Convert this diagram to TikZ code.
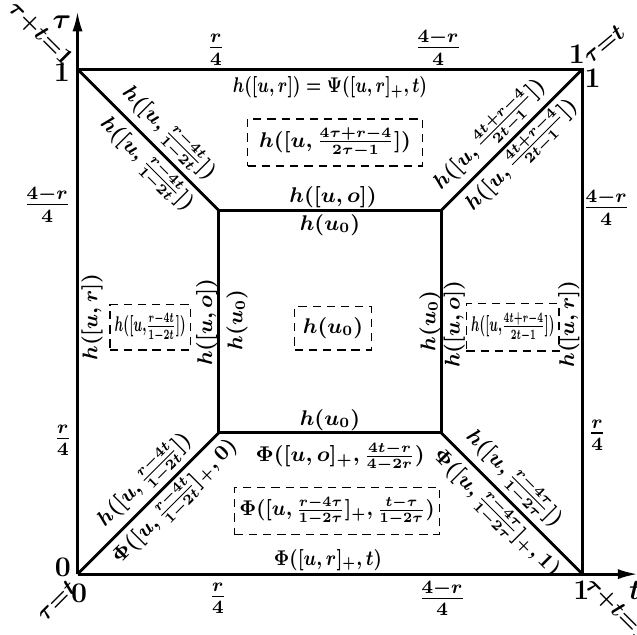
\documentclass[tikz,border=0pt]{standalone}
\usepackage{amsmath}
\usepackage{graphicx}
\usepackage{tikz}
\usetikzlibrary{arrows.meta,positioning}

\begin{document}
\begin{tikzpicture}[x=0.75cm, y=0.75cm,
        edge/.style={line width=1.2pt},
        axis/.style={line width=1.2pt, -{Latex[length=3mm, width=1.5mm]}},
        lbl/.style={inner sep=1pt, font=\fontsize{9}{11}\selectfont\boldmath},
        tick/.style={inner sep=1pt, font=\large\boldmath},
        corner/.style={inner sep=1pt, font=\normalsize\boldmath},
        side/.style={lbl, rotate=90},
        formbox/.style={draw, line width=0.7pt, dash pattern=on 3.5pt off 2.5pt, inner sep=2pt, font=\fontsize{9}{11}\selectfont\boldmath}
      ]
      \useasboundingbox (-1.535,-1.19) rectangle (11.08,11.37);
      \coordinate (sw) at (0,0);
      \coordinate (se) at (10,0);
      \coordinate (ne) at (10,10);
      \coordinate (nw) at (0,10);
      \coordinate (isw) at (2.8,2.8);
      \coordinate (ise) at (7.2,2.8);
      \coordinate (ine) at (7.2,7.2);
      \coordinate (inw) at (2.8,7.2);
      \coordinate (tend) at (11.1,0);
      \coordinate (tauend) at (0,11.15);
      \draw[axis] (sw) -- (tend);
      \draw[axis] (sw) -- (tauend);
      \draw[edge] (nw) -- (ne) -- (se);
      \draw[edge] (isw) rectangle (ine);
      \draw[edge] (nw) -- node[lbl, sloped, above, pos=0.55] {$h([u,\frac{r-4t}{1-2t}])$}
                          node[lbl, sloped, below, pos=0.58] {$h([u,\frac{r-4t}{1-2t}])$} (inw);
      \draw[edge] (ine) -- node[lbl, sloped, above, pos=0.44] {$h([u,\frac{4t+r-4}{2t-1}])$}
                          node[lbl, sloped, below, pos=0.48] {$h([u,\frac{4t+r-4}{2t-1}])$} (ne);
      \draw[edge] (sw) -- node[lbl, sloped, above, pos=0.57] {$h([u,\frac{r-4t}{1-2t}])$}
                          node[lbl, sloped, below, pos=0.6] {$\Phi([u,\frac{r-4t}{1-2t}]_+,0)$} (isw);
      \draw[edge] (ise) -- node[lbl, sloped, above, pos=0.42] {$h([u,\frac{r-4\tau}{1-2\tau}])$}
                          node[lbl, sloped, below, pos=0.48] {$\Phi([u,\frac{r-4\tau}{1-2\tau}]_+,1)$} (se);

      \node[tick] (taulbl) at (-0.31,10.93) {$\tau$};
      \node[tick] (tlbl) at (11.04,-0.32) {$t$};
      \node[corner, rotate=-45] (sumnw) at (-0.74,10.69) {$\tau{+}t{=}1$};
      \node[tick] (onenw) at (-0.31,9.94) {$1$};
      \node[tick] (onene) at (9.89,10.3) {$1$};
      \node[corner, rotate=40] (eqne) at (10.42,10.5) {$\tau{=}t$};
      \node[tick] (onene2) at (10.2,9.82) {$1$};
      \node[tick] (zerow) at (-0.29,0.14) {$0$};
      \node[tick] (zeros) at (0.03,-0.38) {$0$};
      \node[corner, rotate=45] (eqsw) at (-0.42,-0.53) {$\tau{=}t$};
      \node[tick] (onese) at (9.98,-0.32) {$1$};
      \node[corner, rotate=-45] (sumse) at (10.68,-0.72) {$\tau{+}t{=}1$};

      \node[tick] (ticktl) at (2.74,10.38) {$\frac{r}{4}$};
      \node[tick] (ticktr) at (7.14,10.42) {$\frac{4-r}{4}$};
      \node[tick] (tickbl) at (2.78,-0.48) {$\frac{r}{4}$};
      \node[tick] (tickbr) at (7.22,-0.48) {$\frac{4-r}{4}$};
      \node[tick] (ticklt) at (-0.6,7.31) {$\frac{4-r}{4}$};
      \node[tick] (ticklb) at (-0.29,2.65) {$\frac{r}{4}$};
      \node[tick] (tickrt) at (10.47,7.25) {$\frac{4-r}{4}$};
      \node[tick] (tickrb) at (10.29,2.75) {$\frac{r}{4}$};

      \node[lbl] (topout) at (5,9.64) {\scalebox{0.78}[1]{$h([u,r])=\Psi([u,r]_+,t)$}};
      \node[formbox, minimum width=2.6cm, minimum height=0.7cm] (topbox) at (5.1,8.55) {$h([u,\frac{4\tau+r-4}{2\tau-1}])$};
      \node[lbl] (topin) at (5.06,7.47) {$h([u,o])$};
      \node[lbl] (ctop) at (5,6.91) {$h(u_0)$};
      \node[formbox, minimum width=1.14cm, minimum height=0.64cm] (cbox) at (5.06,4.87) {$h(u_0)$};
      \node[side] (cleft) at (3.16,5.03) {$h(u_0)$};
      \node[side] (cright) at (6.98,5.01) {$h(u_0)$};
      \node[lbl] (cbot) at (5,3.05) {$h(u_0)$};
      \node[lbl] (botin) at (5.2,2.32) {$\Phi([u,o]_+,\frac{4t-r}{4-2r})$};
      \node[formbox, minimum height=0.7cm] (botbox) at (5.14,1.25) {\scalebox{0.93}[1]{$\Phi([u,\frac{r-4\tau}{1-2\tau}]_+,\frac{t-\tau}{1-2\tau})$}};
      \node[lbl] (botout) at (4.96,0.28) {\scalebox{0.85}[1]{$\Phi([u,r]_+,t)$}};

      \node[side] (lout) at (0.29,5.09) {$h([u,r])$};
      \node[formbox, inner ysep=1pt, minimum height=0.67cm] (lbox) at (1.44,4.89) {\scalebox{0.6}[1]{$h([u,\!\frac{r-4t}{1-2t}])$}};
      \node[side] (lin) at (2.56,4.99) {$h([u,o])$};
      \node[side] (rin) at (7.46,4.95) {$h([u,o])$};
      \node[formbox, inner ysep=1pt, minimum height=0.7cm] (rbox) at (8.62,4.89) {\scalebox{0.58}[1]{$h([u,\!\frac{4t+r-4}{2t-1}])$}};
      \node[side] (rout) at (9.73,4.95) {$h([u,r])$};
    \end{tikzpicture}
\end{document}
